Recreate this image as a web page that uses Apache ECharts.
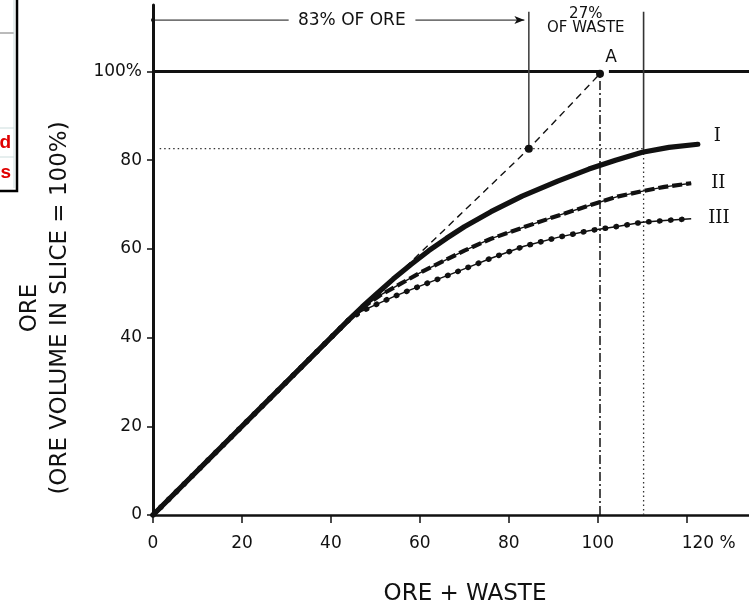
<!DOCTYPE html>
<html>
<head>
<meta charset="utf-8">
<script src="https://cdn.jsdelivr.net/npm/echarts@6/dist/echarts.min.js"></script>
<style>html,body{margin:0;padding:0;background:#fff}#c{width:749px;height:600px}</style>
</head>
<body>
<div id="c"></div>
<script>
// ---- data ----
const xTicks = [0, 20, 40, 60, 80, 100, 120];
const yTicks = [0, 20, 40, 60, 80, 100];
const curveNames = ['I', 'II', 'III'];
const curveI = [[0,0],[44,44],[47,46.9],[50,49.6],[54,53.2],[58,56.5],[62,59.6],[66,62.4],[70,65],[76,68.4],[83,71.9],[91,75.3],[98,78],[104,80],[110,81.8],[116,82.9],[122.5,83.6]];
const curveII = [[0,0],[45,45],[48,47.4],[51,49.5],[55.6,52.1],[60,54.6],[65.4,57.3],[70,59.6],[76,62.3],[83.4,64.9],[91,67.5],[100,70.4],[104.4,71.8],[110.4,73.1],[115,74],[121,74.8]];
const curveIII = [[0,0],[44,44],[47,46],[50,47.4],[54,49.2],[58,50.8],[62,52.4],[67,54.3],[71,55.9],[76,57.9],[83.4,60.6],[91,62.6],[98,64.1],[104,65],[110,66],[115,66.4],[121,66.8]];
const line100a = [[0,100],[100.5,100]];
const line100b = [[102.5,100],[134,100]];
const guideDash = [[47,46.5],[84.5,82.6],[100.5,99.5]];
const line83 = [[1.5,82.6],[110.3,82.6]];
const vert84 = [[84.5,82.6],[84.5,113.5]];
const vert110Top = [[110.3,81.8],[110.3,113.5]];
const vert110Bottom = [[110.3,0],[110.3,81.8]];
const vert100 = [[100.5,0],[100.5,99.5]];
const oreArrowLeft = [[0,111.6],[30.5,111.6]];
const oreArrowRight = [[59,111.6],[83.5,111.6]];
const markedPoints = [[84.5,82.6],[100.5,99.5]];
const markedNames = ['', 'A'];
const oreNote = [['83% OF ORE', 44.7, 111.6]];
const wasteNote = [['27%', 97.3, 113], ['OF WASTE', 97.3, 109.9]];
const xAxisTitle = 'ORE + WASTE';
const yAxisTitle = 'ORE\n(ORE VOLUME IN SLICE = 100%)';

const INK = '#111';
const TXT = '#111';
const FONT = 'DejaVu Sans';

function seg(data, lineStyle, extra) {
  return Object.assign({
    type: 'line', data: data, symbol: 'none', showSymbol: false, silent: true,
    lineStyle: Object.assign({ color: INK, width: 1.5 }, lineStyle), z: 2
  }, extra || {});
}

const chart = echarts.init(document.getElementById('c'), null, { renderer: 'canvas' });
chart.setOption({
  animation: false,
  backgroundColor: '#fff',
  grid: { left: 153, right: 0, top: 5, bottom: 85, containLabel: false, outerBoundsMode: 'none' },
  xAxis: {
    type: 'value', min: 0, max: 134, interval: 20,
    name: xAxisTitle, nameLocation: 'middle', nameGap: 68,
    nameTextStyle: { fontFamily: FONT, fontSize: 23, color: TXT, padding: [0, 0, 0, 28] },
    axisLine: { show: true, onZero: false, lineStyle: { color: INK, width: 2.5 } },
    axisTick: { show: true, length: 8, customValues: xTicks, lineStyle: { color: INK, width: 1.5 } },
    axisLabel: {
      customValues: xTicks, margin: 20, fontFamily: FONT, fontSize: 17, color: TXT,
      formatter: function (v) {
        if (xTicks.indexOf(v) < 0) return '';
        return v === 120 ? '{p|120 %}' : String(v);
      },
      rich: { p: { fontFamily: FONT, fontSize: 17, color: TXT, padding: [0, 0, 0, 44] } }
    },
    splitLine: { show: false }
  },
  yAxis: {
    type: 'value', min: 0, max: 115, interval: 20,
    name: yAxisTitle, nameLocation: 'middle', nameGap: 78,
    nameTextStyle: { fontFamily: FONT, fontSize: 23, lineHeight: 30, color: TXT, padding: [0, 96, 0, 0] },
    axisLine: { show: true, onZero: false, lineStyle: { color: INK, width: 3 } },
    axisTick: { show: true, length: 6, customValues: yTicks, lineStyle: { color: INK, width: 1.5 } },
    axisLabel: {
      customValues: yTicks, margin: 11, fontFamily: FONT, fontSize: 17, color: TXT,
      formatter: function (v) {
        if (yTicks.indexOf(v) < 0) return '';
        return v === 100 ? '100%' : String(v);
      }
    },
    splitLine: { show: false }
  },
  graphic: [
    { type: 'rect', shape: { x: -3, y: -3, width: 20, height: 194 }, style: { fill: '#fff', stroke: '#000', lineWidth: 2.5 } },
    { type: 'line', shape: { x1: 0, y1: 33, x2: 14, y2: 33 }, style: { stroke: '#777', lineWidth: 1 } },
    { type: 'line', shape: { x1: 0, y1: 128, x2: 14, y2: 128 }, style: { stroke: '#cdd', lineWidth: 1 } },
    { type: 'line', shape: { x1: 0, y1: 157, x2: 14, y2: 157 }, style: { stroke: '#cdd', lineWidth: 1 } },
    { type: 'line', shape: { x1: 14, y1: 0, x2: 14, y2: 188 }, style: { stroke: '#cdd', lineWidth: 1 } },
    { type: 'text', style: { text: 'd', x: 11, y: 143, align: 'right', verticalAlign: 'middle', fill: '#e00000', font: 'bold 19px "Liberation Sans"' } },
    { type: 'text', style: { text: 's', x: 11, y: 173, align: 'right', verticalAlign: 'middle', fill: '#e00000', font: 'bold 19px "Liberation Sans"' } }
  ],
  series: [
    seg(line100a, { width: 2.8 }),
    seg(line100b, { width: 2.8 }),
    seg(guideDash, { width: 1.4, type: [7, 5] }),
    seg(line83, { width: 1.2, type: [1.5, 3], color: '#333' }),
    seg(vert84, { width: 1.6, color: '#444' }),
    seg(vert110Top, { width: 1.6, color: '#333' }),
    seg(vert110Bottom, { width: 1.3, type: [1.5, 3], color: '#333' }),
    seg(vert100, { width: 1.5, type: [9, 3, 2, 3] }),
    seg(oreArrowLeft.map(function (p, i) {
      return i === 0 ? { value: p, symbol: 'circle', symbolSize: 4 } : { value: p, symbolSize: 0 };
    }), { width: 1 }, { showSymbol: true, symbol: 'circle', symbolSize: 0, itemStyle: { color: INK } }),
    seg(oreArrowRight.map(function (p, i) {
      return i === 1 ? { value: p, symbol: 'arrow', symbolSize: [6, 10], symbolRotate: -90 } : { value: p, symbolSize: 0 };
    }), { width: 1 }, { showSymbol: true, symbol: 'circle', symbolSize: 0, itemStyle: { color: INK } }),
    // curve III: thin line + beads
    seg(curveIII, { width: 1.4, join: 'round' }, {
      z: 3,
      endLabel: { show: true, formatter: curveNames[2], distance: 17, fontFamily: 'DejaVu Serif', fontSize: 18, color: INK }
    }),
    seg(curveIII, { width: 5.5, type: [0.5, 10.5], cap: 'round', join: 'round' }, { z: 3 }),
    // curve II: thin line + heavy dashes
    seg(curveII, { width: 1.4, join: 'round' }, {
      z: 4,
      endLabel: { show: true, formatter: curveNames[1], distance: 20, fontFamily: 'DejaVu Serif', fontSize: 18, color: INK }
    }),
    seg(curveII, { width: 4.2, type: [10, 4], join: 'round' }, { z: 4 }),
    // curve I: heavy solid
    seg(curveI, { width: 5.2, cap: 'round', join: 'round' }, {
      z: 5,
      endLabel: { show: true, formatter: curveNames[0], distance: 16, offset: [0, -8], fontFamily: 'DejaVu Serif', fontSize: 18, color: INK }
    }),
    {
      type: 'scatter', silent: true, z: 6, symbolSize: 8, itemStyle: { color: INK, opacity: 1 },
      data: markedPoints.map(function (p, i) {
        return {
          value: p, name: markedNames[i],
          label: { show: !!markedNames[i], formatter: '{b}', position: 'inside', offset: [11, -16], fontFamily: FONT, fontSize: 17, color: TXT }
        };
      })
    },
    {
      type: 'scatter', silent: true, symbolSize: 0, itemStyle: { opacity: 1 },
      data: oreNote.map(function (n) { return { value: [n[1], n[2]], name: n[0] }; }),
      label: { show: true, formatter: '{b}', position: 'inside', fontFamily: FONT, fontSize: 17, color: TXT, textBorderWidth: 0 }
    },
    {
      type: 'scatter', silent: true, symbolSize: 0, itemStyle: { opacity: 1 },
      data: wasteNote.map(function (n) { return { value: [n[1], n[2]], name: n[0] }; }),
      label: { show: true, formatter: '{b}', position: 'inside', fontFamily: FONT, fontSize: 15, color: TXT, textBorderWidth: 0 }
    }
  ]
});
</script>
</body>
</html>
